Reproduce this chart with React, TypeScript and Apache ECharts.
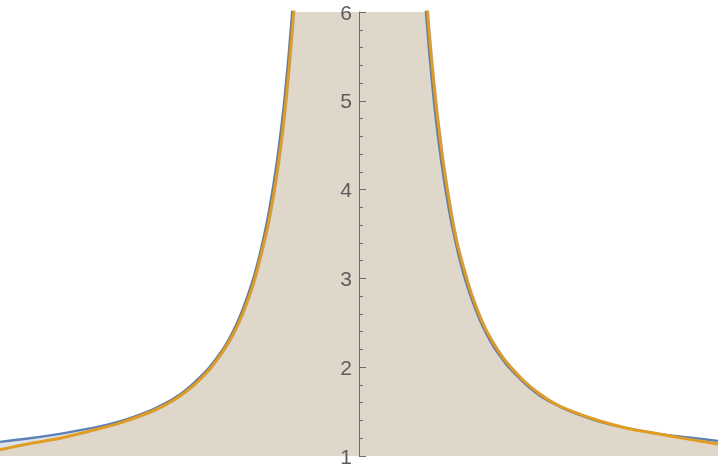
import React, { useEffect, useRef } from "react";
import * as echarts from "echarts";

const xs = [-2.4, -2.2, -2.0, -1.8, -1.6, -1.4, -1.3, -1.2, -1.1, -1.0, -0.95, -0.9, -0.85, -0.8, -0.75, -0.7, -0.65, -0.6, -0.55, -0.5, -0.45, -0.4, -0.35, -0.3, -0.2, -0.1,
  0.1, 0.2, 0.3, 0.35, 0.4, 0.45, 0.5, 0.55, 0.6, 0.65, 0.7, 0.75, 0.8, 0.85, 0.9, 0.95, 1.0, 1.1, 1.2, 1.3, 1.4, 1.6, 1.8, 2.0, 2.2, 2.4];
const blueValues = [1.16, 1.2, 1.25, 1.31, 1.39, 1.51, 1.59, 1.69, 1.83, 2.0, 2.11, 2.23, 2.38, 2.56, 2.78, 3.04, 3.37, 3.78, 4.31, 5.0, 5.94, 7.25, 9.2, 12.1, 26, 101,
  101, 26, 12.1, 9.2, 7.25, 5.94, 5.0, 4.31, 3.78, 3.37, 3.04, 2.78, 2.56, 2.38, 2.23, 2.11, 2.0, 1.83, 1.69, 1.59, 1.51, 1.39, 1.31, 1.25, 1.21, 1.17];
const orangeValues = [1.07, 1.14, 1.2, 1.28, 1.37, 1.49, 1.57, 1.67, 1.8, 1.97, 2.08, 2.2, 2.34, 2.51, 2.72, 2.97, 3.29, 3.66, 4.15, 4.8, 5.7, 6.9, 8.7, 11.5, 24, 85,
  120, 28, 12.8, 9.7, 7.6, 6.2, 5.22, 4.48, 3.91, 3.45, 3.12, 2.84, 2.61, 2.42, 2.27, 2.14, 2.03, 1.85, 1.71, 1.6, 1.52, 1.4, 1.31, 1.25, 1.19, 1.135];
const yTicks = [1, 2, 3, 4, 5, 6];

export default function App() {
  const ref = useRef<HTMLDivElement>(null);
  useEffect(() => {
    if (!ref.current) return;
    const chart = echarts.init(ref.current, null, { renderer: "svg" });
    const blue = xs.map((x, i) => [x, blueValues[i]]);
    const orange = xs.map((x, i) => [x, orangeValues[i]]);
    const lineCommon = { type: "line", smooth: 0.35, showSymbol: false };
    chart.setOption({
      animation: false,
      grid: { left: 0, right: 2, top: 12, bottom: 16, containLabel: false, outerBoundsMode: "none" },
      xAxis: {
        type: "value",
        min: -2.4,
        max: 2.4,
        axisLine: { show: false },
        axisTick: { show: false },
        axisLabel: { show: false },
        splitLine: { show: false },
      },
      yAxis: {
        type: "value",
        position: "left",
        offset: -359,
        min: yTicks[0],
        max: yTicks[yTicks.length - 1],
        interval: 1,
        axisLine: { show: true, onZero: false, lineStyle: { color: "#6b6b6b", width: 1 } },
        axisTick: { show: true, inside: true, length: 7, lineStyle: { color: "#6b6b6b" } },
        minorTick: { show: true, splitNumber: 5, length: 4, lineStyle: { color: "#6b6b6b" } },
        axisLabel: { color: "#5c5c5c", fontSize: 21, margin: 7, fontFamily: "Liberation Sans, Arial, sans-serif" },
        splitLine: { show: false },
        z: 10,
      },
      series: [
        { ...lineCommon, data: blue, lineStyle: { width: 0 }, areaStyle: { color: "#dce2ec", opacity: 1, origin: "start" }, z: 1 },
        { ...lineCommon, data: orange, lineStyle: { width: 0 }, areaStyle: { color: "#dfd8ca", opacity: 1, origin: "start" }, z: 2 },
        { ...lineCommon, data: blue, lineStyle: { width: 2.3, color: "#5e81b5" }, z: 3 },
        { ...lineCommon, data: orange, lineStyle: { width: 3, color: "#e19c24" }, z: 4 },
      ],
    });
    return () => chart.dispose();
  }, []);
  return <div ref={ref} style={{ position: "fixed", left: 0, top: 0, width: 720, height: 472 }} />;
}
